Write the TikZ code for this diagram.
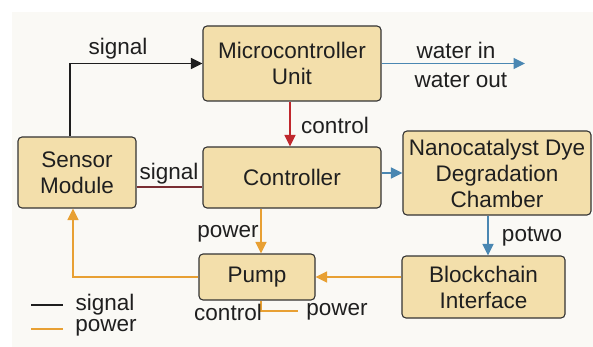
\documentclass[tikz,border=0pt]{standalone}
\usepackage{fontspec}
\setmainfont{Liberation Sans}
\usetikzlibrary{arrows.meta}
\definecolor{boxfill}{HTML}{F3DFAB}
\definecolor{boxdraw}{HTML}{333333}
\definecolor{bgc}{HTML}{FAF9F5}
\definecolor{sigc}{HTML}{1E1E1E}
\definecolor{bluec}{HTML}{4A87B2}
\definecolor{redc}{HTML}{C0282D}
\definecolor{orc}{HTML}{E8A033}
\definecolor{brc}{HTML}{7A2E33}
\tikzset{
  blk/.style={draw=boxdraw, line width=1.1pt, fill=boxfill, rounded corners=4pt, align=center, inner sep=0pt, text=black!88, font=\fontsize{22.5}{26}\selectfont},
  lbl/.style={font=\fontsize{22.5}{26}\selectfont, inner sep=0pt, text=black!88},
  tip/.style={-{Triangle[length=11.5pt,width=11pt]}},
  sigl/.style={draw=sigc, line width=1.4pt},
  bluel/.style={draw=bluec, line width=1.4pt},
  redl/.style={draw=redc, line width=1.4pt},
  orl/.style={draw=orc, line width=1.6pt},
  brl/.style={draw=brc, line width=1.2pt},
}
\begin{document}
\begin{tikzpicture}[x=1pt,y=-1pt]
\useasboundingbox (0,0) rectangle (593,347);
\fill[white] (0,0) rectangle (593,347);
\fill[bgc] (12,12) rectangle (593,347);
% boxes
\node[blk, minimum width=178pt, minimum height=75pt] (mcu) at (292,63.5) {Microcontroller\\Unit};
\node[blk, minimum width=118pt, minimum height=71pt] (sensor) at (77,172.5) {Sensor\\Module};
\node[blk, minimum width=178pt, minimum height=61pt] (ctrl) at (292,177.5) {Controller};
\node[blk, minimum width=188pt, minimum height=84pt] (nano) at (497,173) {Nanocatalyst Dye\\Degradation\\Chamber};
\node[blk, minimum width=163pt, minimum height=62pt] (block) at (483.5,287) {Blockchain\\Interface};
\node[blk, minimum width=116pt, minimum height=46pt] (pump) at (257,277) {Pump};
% free ends
\coordinate (wend) at (525,63.5);
\coordinate (cend) at (298,311);
\coordinate (lg1a) at (31,305);
\coordinate (lg1b) at (63,305);
\coordinate (lg2a) at (31,329);
\coordinate (lg2b) at (63,329);
% connectors
\draw[sigl, tip] ([xshift=-7pt]sensor.north) |- (mcu.west);
\draw[bluel, tip] (mcu.east) -- (wend);
\draw[redl, tip] ([xshift=-2pt]mcu.south) -- ([xshift=-2pt]ctrl.north);
\draw[brl] ([yshift=-14.5pt]sensor.east) -- ([yshift=-9.5pt]ctrl.west);
\draw[bluel, tip] (ctrl.east |- nano.west) -- (nano.west);
\draw[orl, tip] ([xshift=-31pt]ctrl.south) -- ([xshift=4pt]pump.north);
\draw[bluel, tip] ([xshift=-9pt]nano.south) -- ([xshift=4.5pt]block.north);
\draw[orl, tip] ([yshift=10pt]block.west) -- (pump.east);
\draw[orl, tip] (pump.west) -| ([xshift=-4pt]sensor.south);
\draw[orl] ([xshift=4pt]pump.south) |- (cend);
\draw[sigl] (lg1a) -- (lg1b);
\draw[orl] (lg2a) -- (lg2b);
% labels
\node[lbl] (l1) at (118,49) {signal};
\node[lbl] (l2) at (456,50) {water in};
\node[lbl] (l3) at (461,80) {water out};
\node[lbl] (l4) at (335,125) {control};
\node[lbl] (l5) at (169,174) {signal};
\node[lbl] (l6) at (228,234) {power};
\node[lbl] (l7) at (532,237) {potwo};
\node[lbl] (l8) at (228,312) {control};
\node[lbl] (l9) at (337,312) {power};
\node[lbl] (l10) at (105,305) {signal};
\node[lbl] (l11) at (106,328) {power};
\end{tikzpicture}
\end{document}
